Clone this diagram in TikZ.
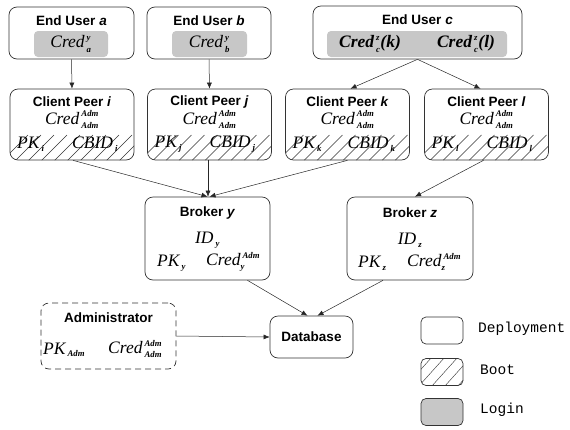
\documentclass[tikz,border=0pt]{standalone}
\usepackage{amsmath}
\usepackage{fontspec}
\setmainfont{Liberation Serif}
\newfontfamily\tmsf{Liberation Serif}
\newfontfamily\hvf{Liberation Sans}
\newfontfamily\courf{Liberation Mono}
\usetikzlibrary{arrows.meta,calc}
\newcommand{\ti}[1]{\text{\tmsf\itshape #1}}
\newcommand{\tb}[1]{\text{\tmsf\bfseries\itshape #1}}
\newcommand{\sm}[1]{{\scriptscriptstyle #1}}
\begin{document}
\begin{tikzpicture}[x=1pt,y=-1pt,
  box/.style={draw=black!80,line width=0.7pt,rounded corners=8pt,inner sep=0pt},
  gbox/.style={fill=black!22,rounded corners=4pt,inner sep=0pt},
  ttl/.style={font=\hvf\bfseries\fontsize{13.5}{15}\selectfont,inner sep=0pt},
  mth/.style={font=\tmsf\fontsize{17.5}{19}\selectfont,inner sep=0pt},
  leg/.style={font=\courf\fontsize{14.5}{16}\selectfont,anchor=west,inner sep=0pt},
  arr/.style={draw=black!85,line width=0.5pt,-{Latex[length=6pt,width=5pt]}},
  hatch/.style={draw=black!80,line width=0.4pt}]
\useasboundingbox (0,0) rectangle (570,429);

% End users
\node[box,minimum width=125,minimum height=52] (ua) at (71.5,33) {};
\node[box,minimum width=124,minimum height=52] (ub) at (209,33) {};
\node[box,minimum width=209,minimum height=53] (uc) at (417.5,32.5) {};
\node[gbox,minimum width=74,minimum height=26] (ga) at (71,44) {};
\node[gbox,minimum width=75,minimum height=26] (gb) at (209.5,44) {};
\node[gbox,minimum width=180,minimum height=26] (gc) at (417,44) {};
\node[ttl] (tua) at (71.5,21) {End User \textit{a}};
\node[ttl] (tub) at (209,21) {End User \textit{b}};
\node[ttl] (tuc) at (417.5,20) {End User \textit{c}};
\node[mth] (cra) at (71,44) {$\ti{Cred}^{\,\sm{\tb{y}}}_{\,\sm{\tb{a}}}$};
\node[mth] (crb) at (209.5,44) {$\ti{Cred}^{\,\sm{\tb{y}}}_{\,\sm{\tb{b}}}$};
\node[mth] (crc1) at (370,44) {$\tb{Cred}^{\,\sm{\tb{z}}}_{\,\sm{\tb{c}}}\tb{(k)}$};
\node[mth] (crc2) at (466,44) {$\tb{Cred}^{\,\sm{\tb{z}}}_{\,\sm{\tb{c}}}\tb{(l)}$};

% Client peers
\foreach \n/\cx/\l in {ci/72/i,cj/209.5/j,ck/347.5/k,cl/486.5/l}{
  \begin{scope}
    \clip[rounded corners=8pt] (\cx-62,89) rectangle (\cx+62,160);
    \foreach \k in {0,...,11}{
      \draw[hatch] (\cx-70+\k*13,161) -- (\cx-44+\k*13,135);
    }
  \end{scope}
  \node[box,minimum width=124,minimum height=71] (\n) at (\cx,124.5) {};
  \node[ttl] (t\n) at (\cx,102) {Client Peer \textit{\l}};
  \node[mth] (a\n) at (\cx,119.5) {$\ti{Cred}^{\,\sm{\tb{Adm}}}_{\,\sm{\tb{Adm}}}$};
  \node[mth,anchor=west] (p\n) at (\cx-55,144) {$\ti{PK}_{\,\sm{\tb{\l}}}$};
  \node[mth,anchor=west] (b\n) at (\cx,144) {$\ti{CBID}_{\,\sm{\tb{\l}}}$};
}

% Brokers
\node[box,minimum width=125,minimum height=83] (by) at (207.5,238.5) {};
\node[box,minimum width=126,minimum height=83] (bz) at (410,238.5) {};
\node[ttl] (tby) at (207.5,213) {Broker \textit{y}};
\node[ttl] (tbz) at (410,213) {Broker \textit{z}};
\node[mth] (idy) at (207.5,240) {$\ti{ID}_{\,\sm{\tb{y}}}$};
\node[mth] (idz) at (410,240) {$\ti{ID}_{\,\sm{\tb{z}}}$};
\node[mth,anchor=west] (pky) at (157,263) {$\ti{PK}_{\,\sm{\tb{y}}}$};
\node[mth,anchor=west] (cry) at (206,262) {$\ti{Cred}^{\,\sm{\tb{Adm}}}_{\sm{\tb{y}}}$};
\node[mth,anchor=west] (pkz) at (358,263) {$\ti{PK}_{\,\sm{\tb{z}}}$};
\node[mth,anchor=west] (crz) at (407,262) {$\ti{Cred}^{\,\sm{\tb{Adm}}}_{\sm{\tb{z}}}$};

% Database and administrator
\node[box,minimum width=83,minimum height=42] (db) at (311.5,337) {};
\node[ttl] (tdb) at (311.5,337) {Database};
\node[box,dashed,dash pattern=on 6pt off 4pt,minimum width=135,minimum height=66] (ad) at (108.5,336) {};
\node[ttl] (tad) at (108.5,318) {Administrator};
\node[mth,anchor=west] (pka) at (43,350) {$\ti{PK}_{\,\sm{\tb{Adm}}}$};
\node[mth,anchor=west] (cra2) at (108,349) {$\ti{Cred}^{\,\sm{\tb{Adm}}}_{\,\sm{\tb{Adm}}}$};

% Legend
\node[box,rounded corners=5pt,minimum width=42,minimum height=27] (l1) at (442,330.5) {};
\begin{scope}
  \clip[rounded corners=5pt] (421,358.5) rectangle (463,385.5);
  \foreach \k in {0,...,5}{
    \draw[hatch] (405+\k*13,387) -- (432+\k*13,357);
  }
\end{scope}
\node[box,rounded corners=5pt,minimum width=42,minimum height=27] (l2) at (442,372) {};
\node[box,fill=black!22,rounded corners=5pt,minimum width=42,minimum height=27] (l3) at (442,412) {};
\node[leg] (tl1) at (478,329) {Deployment};
\node[leg] (tl2) at (480,370) {Boot};
\node[leg] (tl3) at (480,410) {Login};

% Connectors
\draw[arr] (ua.south) -- (ci.north);
\draw[arr] (ub.south) -- (cj.north);
\draw[arr] (uc.south) -- ($(ck.north)+(3,0)$);
\draw[arr] (uc.south) -- ($(cl.north)+(-6,0)$);
\draw[arr] ($(ci.south)+(1,0)$) -- (by.north);
\draw[arr] ($(cj.south)+(-1.5,0)$) -- ($(by.north)+(0.5,0)$);
\draw[arr] ($(ck.south)+(0,0)$) -- ($(by.north)+(2,0)$);
\draw[arr] ($(cl.south)+(-3,0)$) -- ($(bz.north)+(5,0)$);
\draw[arr] ($(by.south)+(40,0)$) -- ($(db.north)+(-4,0)$);
\draw[arr] ($(bz.south)+(-27,0)$) -- ($(db.north)+(6,0)$);
\draw[arr] (ad.east) -- (db.west);
\end{tikzpicture}
\end{document}
